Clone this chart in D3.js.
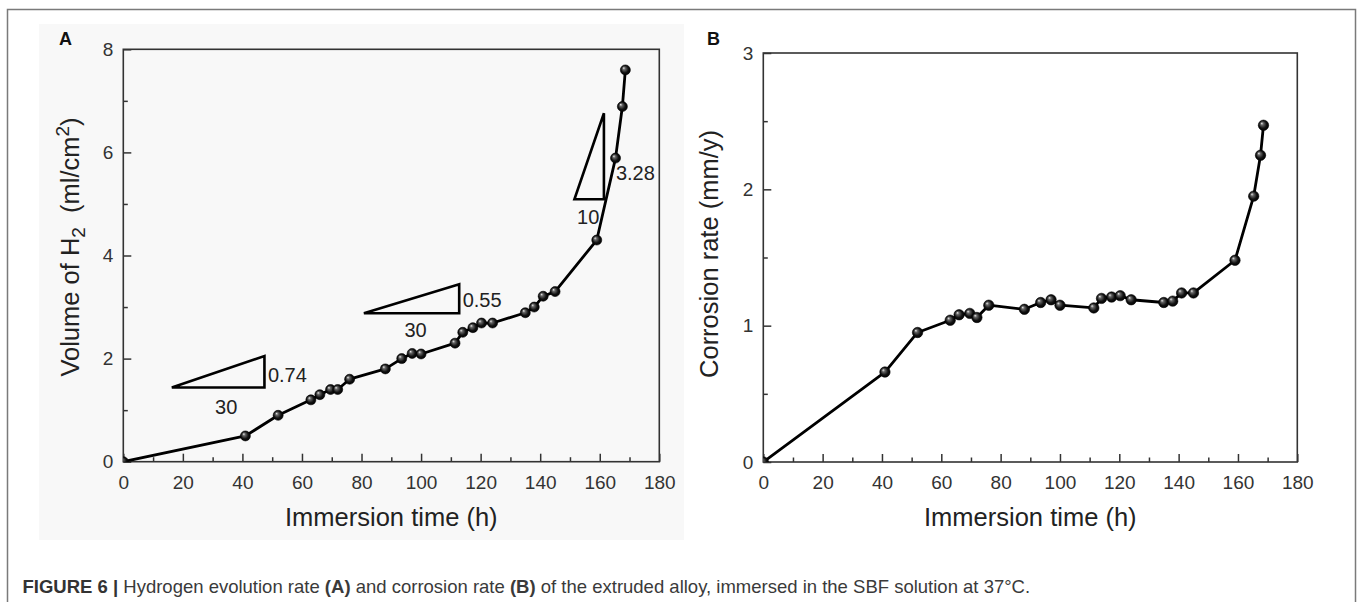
<!DOCTYPE html>
<html>
<head>
<meta charset="utf-8">
<script src="https://cdn.jsdelivr.net/npm/d3@7"></script>
<style>
  html, body { margin: 0; padding: 0; background: #fff; }
  svg { display: block; font-family: "Liberation Sans", Arial, sans-serif; }
</style>
</head>
<body>
<div id="fig"></div>
<script>
// immersion times (h) shared by both panels
var immersionTime = [0, 41, 52, 63, 66, 69.6, 72, 76, 88, 93.5, 97, 100, 111.4, 114, 117.4, 120.3, 124, 135, 138, 141, 145, 159, 165.3, 167.6, 168.6];
// panel A: volume of H2 (ml/cm2)
var volumeH2 = [0, 0.50, 0.90, 1.20, 1.30, 1.40, 1.40, 1.60, 1.80, 2.00, 2.10, 2.09, 2.30, 2.51, 2.60, 2.69, 2.69, 2.89, 3.00, 3.21, 3.30, 4.30, 5.89, 6.89, 7.60];
// panel B: corrosion rate (mm/y)
var corrosionRate = [0, 0.66, 0.95, 1.04, 1.08, 1.09, 1.06, 1.15, 1.12, 1.17, 1.19, 1.15, 1.13, 1.20, 1.21, 1.22, 1.19, 1.17, 1.18, 1.24, 1.24, 1.48, 1.95, 2.25, 2.47];

var xTicks = [0, 20, 40, 60, 80, 100, 120, 140, 160, 180];
var yTicksA = [0, 2, 4, 6, 8];
var yTicksB = [0, 1, 2, 3];

// slope triangles drawn on panel A (data coords) with their labels
var slopeRun = [[16.3, 47.4], [80.8, 112.8], [151.5, 161.4]];
var slopeRise = [[1.44, 2.05], [2.88, 3.44], [5.09, 6.76]];
var runLabels = ["30", "30", "10"];
var riseLabels = ["0.74", "0.55", "3.28"];

var W = 1358, H = 602;
var svg = d3.select("#fig").append("svg")
    .attr("width", W)
    .attr("height", H);

// sphere-like marker fill
var defs = svg.append("defs");
var grad = defs.append("radialGradient")
    .attr("id", "ball")
    .attr("cx", "50%").attr("cy", "50%").attr("r", "55%")
    .attr("fx", "32%").attr("fy", "30%");
grad.append("stop").attr("offset", "0%").attr("stop-color", "#eeeeee");
grad.append("stop").attr("offset", "25%").attr("stop-color", "#666");
grad.append("stop").attr("offset", "65%").attr("stop-color", "#111");
grad.append("stop").attr("offset", "100%").attr("stop-color", "#000");

// outer figure frame
svg.append("rect")
    .attr("x", 7.5).attr("y", 9.5)
    .attr("width", 1348).attr("height", 620)
    .attr("fill", "none")
    .attr("stroke", "#7a7a7a")
    .attr("stroke-width", 1.5);

// light grey backdrop of panel A image
svg.append("rect")
    .attr("x", 39).attr("y", 24)
    .attr("width", 645).attr("height", 516)
    .attr("fill", "#f8f8f8");

function drawPanel(opt) {
  var g = svg.append("g");
  var x = d3.scaleLinear().domain([0, 180]).range([opt.left, opt.right]);
  var y = d3.scaleLinear().domain([0, opt.yMax]).range([opt.bottom, opt.top]);

  var clipId = "clip" + opt.name;
  defs.append("clipPath").attr("id", clipId)
    .append("rect")
      .attr("x", opt.left).attr("y", opt.top - 10)
      .attr("width", opt.right - opt.left + 10)
      .attr("height", opt.bottom - opt.top + 10);

  // minor ticks
  g.append("g")
      .attr("transform", "translate(0," + opt.bottom + ")")
      .call(d3.axisBottom(x).tickValues(d3.range(10, 180, 20)).tickSizeInner(-4.5).tickSizeOuter(0).tickFormat(""))
      .call(function(a) { a.select(".domain").remove(); });
  g.append("g")
      .attr("transform", "translate(" + opt.left + ",0)")
      .call(d3.axisLeft(y).tickValues(opt.yMinor).tickSizeInner(-4.5).tickSizeOuter(0).tickFormat(""))
      .call(function(a) { a.select(".domain").remove(); });

  // major ticks + labels
  var xa = g.append("g")
      .attr("transform", "translate(0," + opt.bottom + ")")
      .call(d3.axisBottom(x).tickValues(xTicks).tickSizeInner(-8).tickSizeOuter(0).tickPadding(14).tickFormat(d3.format("d")));
  var ya = g.append("g")
      .attr("transform", "translate(" + opt.left + ",0)")
      .call(d3.axisLeft(y).tickValues(opt.yTicks).tickSizeInner(-8).tickSizeOuter(0).tickPadding(10).tickFormat(d3.format("d")));
  [xa, ya].forEach(function(a) {
    a.select(".domain").remove();
    a.selectAll("text").attr("font-size", 19).attr("fill", "#333").attr("font-family", null);
  });
  g.selectAll(".tick line").attr("stroke", "#333").attr("stroke-width", 1.5);

  // plot frame
  g.append("rect")
      .attr("x", opt.left).attr("y", opt.top)
      .attr("width", opt.right - opt.left)
      .attr("height", opt.bottom - opt.top)
      .attr("fill", "none")
      .attr("stroke", "#333")
      .attr("stroke-width", 1.6);

  // axis titles
  g.append("text")
      .attr("x", (opt.left + opt.right) / 2)
      .attr("y", opt.bottom + 64)
      .attr("text-anchor", "middle")
      .attr("font-size", 25.5)
      .attr("fill", "#222")
      .text("Immersion time (h)");

  var yt = g.append("text")
      .attr("transform", "translate(" + opt.titleX + "," + opt.titleY + ") rotate(-90)")
      .attr("text-anchor", "middle")
      .attr("font-size", 25.5)
      .attr("fill", "#222");
  opt.yTitle(yt);

  // panel letter
  g.append("text")
      .attr("x", opt.letterX).attr("y", 45)
      .attr("font-size", 18)
      .attr("font-weight", "bold")
      .attr("fill", "#111")
      .text(opt.name);

  var pts = immersionTime.map(function(t, i) { return [t, opt.values[i]]; });
  var line = d3.line().x(function(d) { return x(d[0]); }).y(function(d) { return y(d[1]); });

  var plot = g.append("g").attr("clip-path", "url(#" + clipId + ")");
  plot.append("path")
      .datum(pts)
      .attr("d", line)
      .attr("fill", "none")
      .attr("stroke", "#000")
      .attr("stroke-width", 2.8)
      .attr("stroke-linejoin", "round");
  plot.selectAll("circle")
    .data(pts)
    .enter().append("circle")
      .attr("cx", function(d) { return x(d[0]); })
      .attr("cy", function(d) { return y(d[1]); })
      .attr("r", opt.r)
      .attr("fill", "url(#ball)")
      .attr("stroke", "#000")
      .attr("stroke-width", 0.6);

  return {g: g, x: x, y: y};
}

var pa = drawPanel({
  name: "A", left: 123.3, right: 659.3, top: 49.3, bottom: 461.7,
  yMax: 8, yTicks: yTicksA, yMinor: [1, 3, 5, 7], values: volumeH2, r: 5,
  titleX: 79, titleY: 247, letterX: 59,
  yTitle: function(t) {
    t.append("tspan").text("Volume of H");
    t.append("tspan").attr("font-size", 19).attr("dy", 6).text("2");
    t.append("tspan").attr("dy", -6).text("\u00a0 (ml/cm");
    t.append("tspan").attr("font-size", 19).attr("dy", -10).text("2");
    t.append("tspan").attr("dy", 10).text(")");
  }
});

var pb = drawPanel({
  name: "B", left: 763.3, right: 1297.3, top: 53, bottom: 462,
  yMax: 3, yTicks: yTicksB, yMinor: [0.5, 1.5, 2.5], values: corrosionRate, r: 5.2,
  titleX: 718, titleY: 254, letterX: 707,
  yTitle: function(t) { t.text("Corrosion rate (mm/y)"); }
});

// slope triangles on panel A
var tri = pa.g.append("g");
var labelOffsets = [
  {rx: 3.5, ry: 10, ux: 8, uy: 27},
  {rx: 3.5, ry: 8, ux: 4, uy: 24},
  {rx: 12, ry: 24, ux: -1, uy: 25}
];
slopeRun.forEach(function(run, i) {
  var x0 = pa.x(run[0]), x1 = pa.x(run[1]);
  var y0 = pa.y(slopeRise[i][0]), y1 = pa.y(slopeRise[i][1]);
  tri.append("path")
      .attr("d", "M" + x0 + "," + y0 + "L" + x1 + "," + y0 + "L" + x1 + "," + y1 + "Z")
      .attr("fill", "none")
      .attr("stroke", "#000")
      .attr("stroke-width", 2.6)
      .attr("stroke-linejoin", "miter");
  var o = labelOffsets[i];
  tri.append("text")
      .attr("x", x1 + o.rx).attr("y", (y0 + y1) / 2 + o.ry)
      .attr("font-size", 20).attr("fill", "#222")
      .text(riseLabels[i]);
  tri.append("text")
      .attr("x", (x0 + x1) / 2 + o.ux).attr("y", y0 + o.uy)
      .attr("text-anchor", "middle")
      .attr("font-size", 20).attr("fill", "#222")
      .text(runLabels[i]);
});

// caption
var cap = svg.append("text")
    .attr("x", 22.5).attr("y", 593)
    .attr("font-size", 18.5)
    .attr("fill", "#3a3a3a");
cap.append("tspan").attr("font-weight", "bold").attr("fill", "#333").text("FIGURE 6 |");
cap.append("tspan").text(" Hydrogen evolution rate ");
cap.append("tspan").attr("font-weight", "bold").text("(A)");
cap.append("tspan").text(" and corrosion rate ");
cap.append("tspan").attr("font-weight", "bold").text("(B)");
cap.append("tspan").text(" of the extruded alloy, immersed in the SBF solution at 37\u00b0C.");
</script>
</body>
</html>
